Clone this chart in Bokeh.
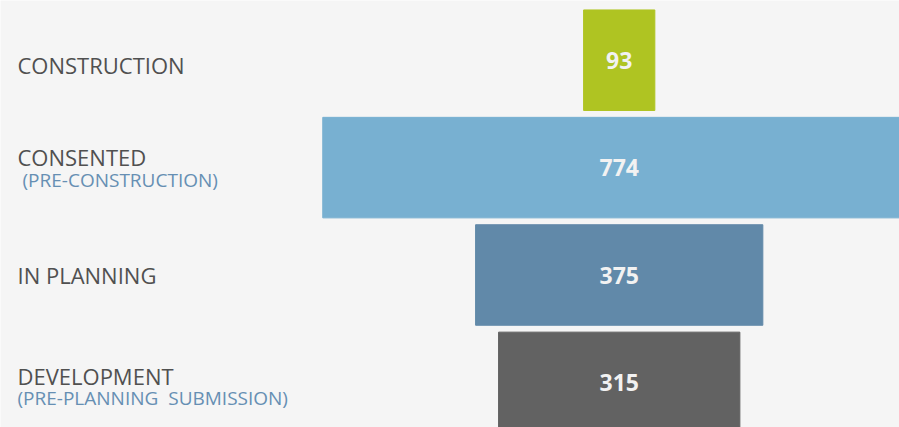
from bokeh.plotting import figure
from bokeh.models import ColumnDataSource, Range1d
from bokeh.embed import file_html
from bokeh.resources import INLINE
from bokeh.core.properties import value

stages = ["CONSTRUCTION", "CONSENTED", "IN PLANNING", "DEVELOPMENT"]
sub_labels = ["", "(PRE-CONSTRUCTION)", "", "(PRE-PLANNING\u00a0 SUBMISSION)"]
counts = [93, 774, 375, 315]
colors = ["#afc422", "#78b0d1", "#6189a9", "#626262"]

BG = "#f5f5f5"
n = len(stages)
ypos = list(range(n))

src = ColumnDataSource(dict(
    y=ypos,
    left=[-c / 2 for c in counts],
    right=[c / 2 for c in counts],
    color=colors,
    val=[str(c) for c in counts],
    stage=stages,
    sub=sub_labels,
    main_off=[5, -11, 0, -6],
    sub_off=[0, 12, 0, 16],
    sub_xoff=[0, 5, 0, 0],
))

p = figure(width=899, height=427, output_backend="svg", toolbar_location=None,
           x_range=Range1d(-807.7, 365.9), y_range=Range1d(3.420, -0.556),
           min_border=0, background_fill_color=BG, border_fill_color=BG,
           outline_line_color=None)
p.axis.visible = False
p.grid.visible = False

p.hbar(y="y", left="left", right="right", height=0.936, color="color", source=src)

p.text(x=0, y="y", text="val", source=src, text_color="#f2f2f2",
       text_font=value("Open Sans"), text_font_style="bold", text_font_size="23px",
       text_align="center", text_baseline="middle")

label_x = -785.5
p.text(x=label_x, y="y", text="stage", source=src, y_offset="main_off",
       text_color="#505050", text_font=value("Open Sans"), text_font_size="22px",
       text_align="left", text_baseline="middle")
p.text(x=label_x, y="y", text="sub", source=src, y_offset="sub_off",
       x_offset="sub_xoff",
       text_color="#668fb3", text_font=value("Open Sans"), text_font_size="19px",
       text_align="left", text_baseline="middle")

html = file_html(p, INLINE)
html = html.replace("<body>", '<body style="background:%s">' % BG, 1)
open("out.html", "w").write(html)
